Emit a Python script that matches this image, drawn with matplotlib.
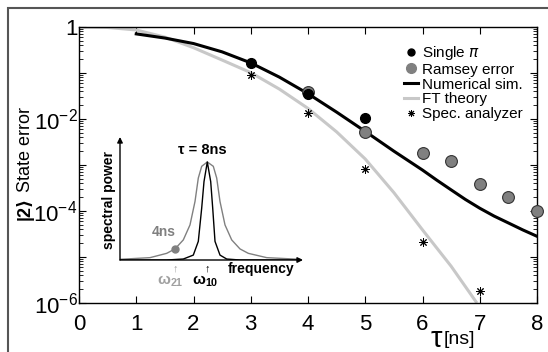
import numpy as np
import matplotlib
matplotlib.use("Agg")
import matplotlib.pyplot as plt
from matplotlib.lines import Line2D
from matplotlib.patches import Rectangle
from matplotlib.ticker import LogLocator, NullFormatter

plt.rcParams['font.family'] = ['Liberation Sans', 'DejaVu Sans']
plt.rcParams['mathtext.fontset'] = 'custom'
plt.rcParams['mathtext.rm'] = 'Liberation Sans'
plt.rcParams['mathtext.bf'] = 'Liberation Sans:bold'

# main panel data
sim_tau = [1, 1.5, 2, 2.5, 3, 3.5, 4, 4.5, 5, 5.5, 6, 6.25, 6.5, 6.75, 7, 7.25, 7.5, 7.75, 8]
sim_err = [0.708, 0.575, 0.437, 0.288, 0.166, 0.0813, 0.0355, 0.0141, 5.37e-3, 2.0e-3,
           7.76e-4, 4.68e-4, 2.88e-4, 1.78e-4, 1.15e-4, 7.76e-5, 5.5e-5, 3.89e-5, 2.82e-5]

ft_tau = [0, 0.5, 1, 1.5, 2, 2.5, 3, 3.5, 4, 4.5, 5, 5.5, 6, 6.5, 6.95]
ft_err = [1.0, 0.977, 0.861, 0.603, 0.355, 0.191, 0.102, 0.0447, 0.0170, 5.25e-3,
          1.35e-3, 2.51e-4, 3.89e-5, 6.3e-6, 1.0e-6]

single_tau = [3, 4, 5]
single_err = [0.162, 0.0347, 0.0105]

ramsey_tau = [4, 5, 6, 6.5, 7, 7.5, 8]
ramsey_err = [0.038, 5.25e-3, 1.78e-3, 1.23e-3, 3.9e-4, 2.04e-4, 1.02e-4]

spec_tau = [3, 4, 5, 6, 7]
spec_err = [0.091, 0.0132, 8.1e-4, 2.14e-5, 1.82e-6]

xticks = [0, 1, 2, 3, 4, 5, 6, 7, 8]
ydecades = [1e0, 1e-1, 1e-2, 1e-3, 1e-4, 1e-5, 1e-6]
ylabels = ['1', '', r'$\mathregular{10^{-2}}$', '', r'$\mathregular{10^{-4}}$', '',
           r'$\mathregular{10^{-6}}$']

# inset spectra (frequency in arbitrary units, power normalised to peak)
f_4ns = [0, 30, 46.7, 55, 63.3, 70, 75, 78.3, 81.7, 87.3, 93.3, 96.7, 100, 105,
         111.7, 120, 128.3, 146.7, 180]
p_4ns = [0.007, 0.024, 0.068, 0.113, 0.205, 0.358, 0.597, 0.836, 0.956, 1.0,
         0.956, 0.836, 0.597, 0.358, 0.205, 0.113, 0.068, 0.024, 0.007]
f_8ns = [0, 46.7, 63.3, 73.3, 78.3, 81.7, 84, 87.3, 90.7, 92.7, 95, 100, 106.7, 120, 180]
p_8ns = [0.0, 0.0, 0.01, 0.05, 0.19, 0.53, 0.80, 1.0, 0.80, 0.53, 0.19, 0.05, 0.01, 0.0, 0.0]
f_w21, p_w21 = 55, 0.112

W, H = 548, 352
fig = plt.figure(figsize=(W / 100, H / 100), dpi=100)
fig.patches.append(Rectangle((8 / W, -0.1), 1.2, 1 - 8 / H + 0.1, transform=fig.transFigure,
                             fill=False, edgecolor='#555555', lw=1.5))

ax = fig.add_axes([79 / W, 1 - 303 / H, (537 - 79) / W, (303 - 27) / H])
ax.semilogy(ft_tau, ft_err, color='#c8c8c8', lw=2.2, solid_capstyle='butt')
ax.semilogy(sim_tau, sim_err, color='black', lw=2.2)
ax.plot(ramsey_tau, ramsey_err, 'o', color='#808080', mec='#333333', mew=0.8, ms=8.5,
        clip_on=False, zorder=4)
ax.plot(single_tau, single_err, 'o', color='black', ms=7, clip_on=False, zorder=5)
ax.plot(spec_tau, spec_err, marker=(8, 2, 0), ls='none', color='black', mec='black',
        mew=0.7, ms=6, clip_on=False, zorder=5)

ax.set_xlim(0, 8)
ax.set_ylim(1e-6, 1)
ax.set_xticks(xticks)
ax.set_xticklabels([str(t) for t in xticks], fontsize=16)
ax.set_yticks(ydecades)
ax.set_yticklabels(ylabels, fontsize=16)
ax.yaxis.set_minor_locator(LogLocator(base=10, subs=np.arange(2, 10), numticks=20))
ax.yaxis.set_minor_formatter(NullFormatter())
ax.tick_params(which='both', direction='in', top=True, right=True)
ax.tick_params(which='major', length=5, width=0.8)
ax.tick_params(which='minor', length=3, width=0.6)
ax.tick_params(axis='x', pad=8)
ax.tick_params(axis='y', pad=1)
for s in ax.spines.values():
    s.set_linewidth(1.0)

handles = [
    Line2D([], [], marker='o', ls='none', color='black', ms=5),
    Line2D([], [], marker='o', ls='none', color='#808080', mec='#808080', ms=7),
    Line2D([], [], color='black', lw=2.2),
    Line2D([], [], color='#c8c8c8', lw=2.2),
    Line2D([], [], marker=(8, 2, 0), ls='none', color='black', mew=0.7, ms=5),
]
labels = [r'Single $\pi$', 'Ramsey error', 'Numerical sim.', 'FT theory', 'Spec. analyzer']
fig.legend(handles, labels, loc='upper left', bbox_to_anchor=(404 / W, 1 - 44 / H),
           frameon=False, fontsize=11, handlelength=0.9, handletextpad=0.3,
           labelspacing=0.05, borderpad=0, borderaxespad=0)

fig.text(25 / W, 1 - 150 / H, 'State error', rotation=90, fontsize=13, ha='center', va='center')
fig.text(25 / W, 1 - 208 / H, '|2⟩', rotation=90, fontsize=13, fontweight='bold',
         ha='center', va='center')
fig.text(442 / W, 1 - 339 / H, 'τ', fontsize=21, ha='right', va='center')
fig.text(444 / W, 1 - 339 / H, '[ns]', fontsize=14, ha='left', va='center')

# inset
ins = fig.add_axes([120 / W, 1 - 260 / H, (303 - 120) / W, (260 - 137) / H])
ins.plot(f_4ns, p_4ns, color='#808080', lw=1.0)
ins.plot(f_8ns, p_8ns, color='black', lw=1.0)
ins.plot([f_w21], [p_w21], 'o', color='#808080', ms=5)
ins.set_xlim(0, 183)
ins.set_ylim(0, 1.255)
ins.axis('off')
ins.patch.set_visible(False)
arr = dict(arrowstyle='-|>', color='black', lw=1.0, mutation_scale=8, shrinkA=0, shrinkB=0)
ins.annotate('', xy=(0, 1), xytext=(0, 0), xycoords='axes fraction', arrowprops=arr)
ins.annotate('', xy=(1, 0), xytext=(0, 0), xycoords='axes fraction', arrowprops=arr)

fig.text(109 / W, 1 - 200 / H, 'spectral power', rotation=90, fontsize=10, fontweight='bold',
         ha='center', va='center')
fig.text(202 / W, 1 - 150 / H, 'τ = 8ns', fontsize=10.5, fontweight='bold', ha='center', va='center')
fig.text(261 / W, 1 - 269 / H, 'frequency', fontsize=10, fontweight='bold', ha='center', va='center')
fig.text(164 / W, 1 - 232 / H, '4ns', fontsize=10, fontweight='bold', color='#808080',
         ha='center', va='center')
fig.text(170 / W, 1 - 281 / H, r'$\mathbf{\omega_{21}}$', fontsize=11, color='#a0a0a0',
         ha='center', va='center')
fig.text(205 / W, 1 - 281 / H, r'$\mathbf{\omega_{10}}$', fontsize=11, color='black',
         ha='center', va='center')
fig.text(175 / W, 1 - 268 / H, '↑', fontsize=8, color='#a0a0a0', ha='center', va='center')
fig.text(207 / W, 1 - 268 / H, '↑', fontsize=8, fontweight='bold', color='black',
         ha='center', va='center')

fig.savefig('out.png', dpi=100)
